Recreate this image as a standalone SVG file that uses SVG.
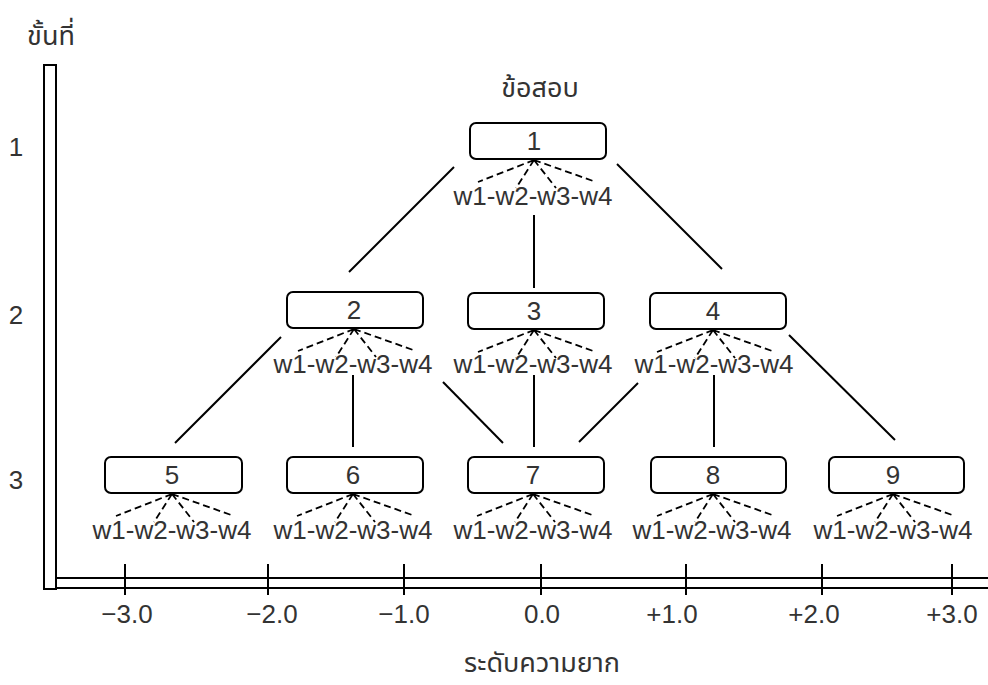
<svg xmlns="http://www.w3.org/2000/svg" width="988" height="685" viewBox="0 0 988 685">
<style>
.box{fill:#fff;stroke:#000;stroke-width:2}
.t{font-family:"Liberation Sans",Arial,sans-serif;font-size:26px;fill:#333;text-anchor:middle}
.th{font-family:"Noto Sans Thai","Noto Sans Thai Looped","Tlwg Typo",Loma,Garuda,"Noto Sans","DejaVu Sans",sans-serif;font-size:27px;fill:#333;text-anchor:middle}
.ln{stroke:#000;stroke-width:2;fill:none}
.ds{stroke:#000;stroke-width:1.8;stroke-dasharray:7 4;fill:none}
</style>
<rect width="988" height="685" fill="#fff"/>
<g id="axes">
<rect x="44" y="65" width="12" height="524" class="ln"/>
<line x1="56" y1="578" x2="988" y2="578" class="ln"/>
<line x1="56" y1="588" x2="988" y2="588" class="ln"/>
<line x1="125" y1="564" x2="125" y2="595" class="ln"/>
<line x1="268" y1="564" x2="268" y2="595" class="ln"/>
<line x1="404" y1="564" x2="404" y2="595" class="ln"/>
<line x1="541" y1="564" x2="541" y2="595" class="ln"/>
<line x1="686" y1="564" x2="686" y2="595" class="ln"/>
<line x1="822" y1="564" x2="822" y2="595" class="ln"/>
<line x1="952" y1="564" x2="952" y2="595" class="ln"/>
<text class="t" x="127" y="623">−3.0</text>
<text class="t" x="272" y="623">−2.0</text>
<text class="t" x="404" y="623">−1.0</text>
<text class="t" x="542" y="623">0.0</text>
<text class="t" x="672" y="623">+1.0</text>
<text class="t" x="814" y="623">+2.0</text>
<text class="t" x="952" y="623">+3.0</text>
<text class="th" x="51" y="45" font-size="31">ขั้นที่</text>
<text class="th" x="540" y="97" font-size="31">ข้อสอบ</text>
<text class="th" x="542" y="672" font-size="28">ระดับความยาก</text>
<text class="t" x="16" y="156" font-size="24">1</text>
<text class="t" x="16" y="324" font-size="24">2</text>
<text class="t" x="16" y="489" font-size="24">3</text>
</g>
<g id="connectors">
<line x1="454" y1="167" x2="349" y2="272" class="ln"/>
<line x1="534" y1="215" x2="534" y2="288" class="ln"/>
<line x1="617" y1="164" x2="722" y2="269" class="ln"/>
<line x1="281" y1="337" x2="175" y2="443" class="ln"/>
<line x1="353" y1="375" x2="353" y2="447" class="ln"/>
<line x1="443" y1="382" x2="503" y2="443" class="ln"/>
<line x1="534" y1="375" x2="534" y2="447" class="ln"/>
<line x1="638" y1="383" x2="579" y2="442" class="ln"/>
<line x1="714" y1="375" x2="714" y2="447" class="ln"/>
<line x1="789" y1="335" x2="895" y2="440" class="ln"/>
</g>
<g id="node1">
<rect class="box" x="470" y="123" width="136" height="36" rx="6"/>
<text class="t" x="534" y="150">1</text>
<path class="ds" d="M534 160L478 182M534 160L516 188M534 160L556 188M534 160L596 182"/>
<text class="t" x="533" y="205">w1-w2-w3-w4</text>
</g>
<g id="node2">
<rect class="box" x="287" y="292" width="136" height="36" rx="6"/>
<text class="t" x="354" y="319">2</text>
<path class="ds" d="M354 329L298 351M354 329L336 357M354 329L376 357M354 329L416 351"/>
<text class="t" x="353" y="373">w1-w2-w3-w4</text>
</g>
<g id="node3">
<rect class="box" x="468" y="293" width="136" height="36" rx="6"/>
<text class="t" x="534" y="320">3</text>
<path class="ds" d="M534 330L478 352M534 330L516 358M534 330L556 358M534 330L596 352"/>
<text class="t" x="533" y="373">w1-w2-w3-w4</text>
</g>
<g id="node4">
<rect class="box" x="650" y="293" width="136" height="36" rx="6"/>
<text class="t" x="713" y="320">4</text>
<path class="ds" d="M713 330L657 352M713 330L695 358M713 330L735 358M713 330L775 352"/>
<text class="t" x="714" y="373">w1-w2-w3-w4</text>
</g>
<g id="node5">
<rect class="box" x="105" y="457" width="137" height="36" rx="6"/>
<text class="t" x="172" y="484">5</text>
<path class="ds" d="M172 494L116 516M172 494L154 522M172 494L194 522M172 494L234 516"/>
<text class="t" x="172" y="539">w1-w2-w3-w4</text>
</g>
<g id="node6">
<rect class="box" x="287" y="457" width="136" height="36" rx="6"/>
<text class="t" x="353" y="484">6</text>
<path class="ds" d="M353 494L297 516M353 494L335 522M353 494L375 522M353 494L415 516"/>
<text class="t" x="353" y="539">w1-w2-w3-w4</text>
</g>
<g id="node7">
<rect class="box" x="468" y="457" width="136" height="36" rx="6"/>
<text class="t" x="533" y="484">7</text>
<path class="ds" d="M533 494L477 516M533 494L515 522M533 494L555 522M533 494L595 516"/>
<text class="t" x="533" y="539">w1-w2-w3-w4</text>
</g>
<g id="node8">
<rect class="box" x="651" y="457" width="135" height="36" rx="6"/>
<text class="t" x="713" y="484">8</text>
<path class="ds" d="M713 494L657 516M713 494L695 522M713 494L735 522M713 494L775 516"/>
<text class="t" x="712" y="539">w1-w2-w3-w4</text>
</g>
<g id="node9">
<rect class="box" x="829" y="457" width="135" height="36" rx="6"/>
<text class="t" x="893" y="484">9</text>
<path class="ds" d="M893 494L837 516M893 494L875 522M893 494L915 522M893 494L955 516"/>
<text class="t" x="893" y="539">w1-w2-w3-w4</text>
</g>
</svg>
